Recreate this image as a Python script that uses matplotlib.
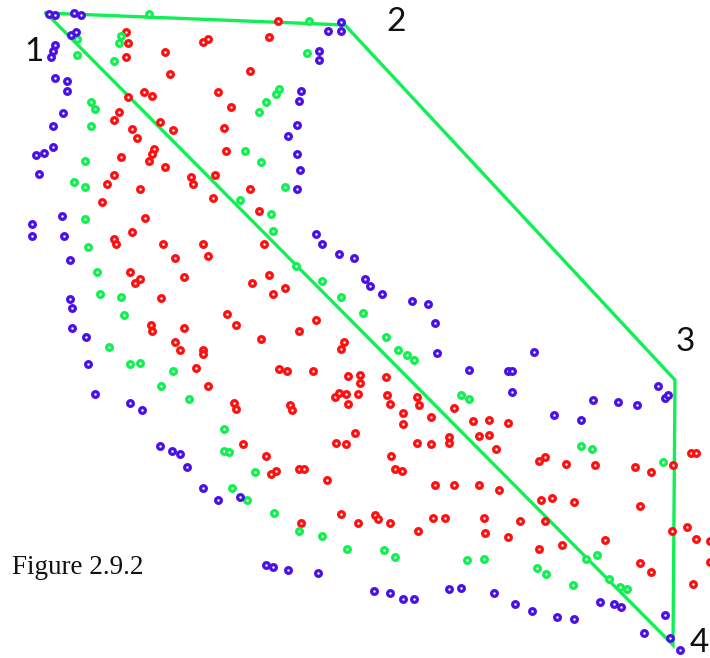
import matplotlib
matplotlib.use("Agg")
import matplotlib.pyplot as plt
import numpy as np

# point positions (pixel coords, y downwards)
blue_pts = [
    (49, 14), (55, 15), (74, 13), (81, 15), (71, 35), (76, 32), (55, 45), (53, 51), (51, 57),
    (55, 78), (67, 81), (67, 91), (63, 113), (53, 126), (53, 147), (44, 153), (36, 155),
    (341, 22), (341, 31), (328, 31), (319, 51), (319, 60), (301, 91), (299, 101), (297, 125),
    (288, 136), (297, 154), (300, 170),
    (39, 174), (32, 224), (32, 236), (62, 216), (64, 236), (70, 260), (70, 299), (72, 308), (72, 328),
    (297, 189), (316, 234), (322, 244), (339, 254), (354, 258), (365, 279), (370, 286), (382, 294),
    (412, 301), (428, 304), (435, 323),
    (86, 337), (88, 364), (95, 394), (130, 403), (142, 410), (160, 446), (172, 451), (180, 454),
    (187, 467), (203, 488), (437, 353), (469, 370),
    (534, 352), (508, 371), (512, 371), (512, 392), (593, 400), (618, 402), (637, 405), (554, 415),
    (581, 420), (658, 386), (665, 398), (668, 395),
    (218, 500), (240, 497),
    (266, 565), (273, 567), (288, 570), (318, 573), (374, 591), (390, 593), (403, 599), (414, 599),
    (449, 589), (461, 588),
    (494, 593), (515, 604), (532, 611), (557, 617), (574, 619), (600, 602), (614, 604), (621, 607),
    (665, 615), (644, 633), (670, 638), (680, 650),
]

green_pts = [
    (149, 14), (121, 36), (119, 43), (77, 39), (77, 55), (114, 61), (91, 102), (95, 109), (91, 126),
    (85, 161), (309, 21), (307, 53), (279, 89), (276, 94), (266, 102), (259, 112), (245, 151), (261, 162),
    (74, 182), (85, 187), (85, 219), (88, 247), (97, 272), (100, 294), (121, 297), (124, 315),
    (285, 187), (240, 200), (271, 214), (273, 231), (296, 266), (322, 281), (341, 297), (363, 313),
    (109, 347), (130, 364), (140, 363), (173, 371), (161, 386), (189, 399), (224, 429), (224, 451),
    (229, 452), (232, 488),
    (386, 337), (398, 350), (407, 355), (414, 360), (461, 395), (469, 399), (255, 472),
    (581, 446), (592, 449), (663, 462),
    (247, 500), (274, 513), (299, 531), (322, 536), (347, 549), (384, 550), (395, 557), (467, 560),
    (484, 559), (537, 568), (546, 574), (573, 585), (586, 559), (597, 555), (609, 579), (620, 587),
    (627, 589),
]

red_pts = [
    (126, 32), (128, 43), (126, 57), (203, 42), (208, 39), (165, 52), (170, 74), (144, 92), (152, 96),
    (128, 97), (119, 112), (114, 120), (160, 122), (173, 130), (132, 129), (137, 138), (218, 92),
    (231, 107), (224, 128), (226, 151), (154, 149), (152, 154), (149, 161), (121, 157), (165, 167),
    (278, 21), (269, 37), (250, 71),
    (114, 175), (107, 184), (140, 189), (102, 202), (191, 177), (193, 184), (215, 175), (213, 198),
    (145, 218), (132, 232), (114, 239), (116, 244), (163, 244), (203, 244), (208, 256), (175, 258),
    (184, 277), (130, 272), (140, 279), (135, 283), (161, 298), (227, 314), (236, 325), (151, 325),
    (184, 328),
    (250, 189), (259, 211), (264, 244), (269, 275), (252, 283), (273, 294), (285, 288), (316, 320),
    (299, 331),
    (152, 331), (175, 342), (180, 350), (203, 350), (203, 354), (196, 368), (208, 386), (234, 403),
    (236, 409),
    (261, 339), (344, 342), (341, 349), (279, 369), (287, 371), (313, 371), (348, 376), (360, 375),
    (360, 383), (386, 377), (335, 397), (339, 393), (346, 394), (348, 404), (358, 394), (387, 395),
    (390, 404), (417, 397), (419, 405), (403, 413), (403, 424), (431, 417), (454, 408), (290, 405),
    (292, 410), (355, 433), (336, 443), (346, 444), (243, 444), (266, 456), (271, 474), (276, 471),
    (299, 469), (304, 469), (327, 480), (391, 456), (395, 469), (402, 471), (417, 443), (431, 444),
    (449, 437), (449, 443), (435, 485), (454, 485),
    (473, 421), (489, 420), (508, 423), (479, 436), (489, 435), (496, 449), (539, 461), (545, 457),
    (566, 464), (595, 465), (635, 467), (651, 472), (673, 465), (691, 453), (696, 453), (479, 485),
    (499, 490),
    (341, 514), (358, 523), (375, 515), (378, 519), (390, 523), (301, 523), (418, 531), (433, 518),
    (445, 518),
    (541, 500), (552, 498), (574, 502), (484, 518), (520, 521), (545, 521), (485, 533), (508, 537),
    (539, 549), (562, 545), (605, 540), (640, 506), (672, 531), (687, 527), (696, 539), (710, 541),
    (640, 563), (651, 572), (693, 584), (710, 562),
]

# hull through the corner points 1-2-3-4
hull_x = [46, 345, 675, 673, 46]
hull_y = [13, 25, 380, 645, 13]
corner_labels = ["1", "2", "3", "4"]
label_x = [34, 396, 685, 699]
label_y = [52, 22, 342, 643]

fig = plt.figure(figsize=(7.10, 6.58), dpi=100)
ax = fig.add_axes([0, 0, 1, 1])
ax.set_xlim(0, 710)
ax.set_ylim(658, 0)
ax.axis('off')

ax.plot(hull_x, hull_y, color='#10f055', lw=2.4, zorder=1, solid_joinstyle='miter')

for pts, col in [(red_pts, '#ff1010'), (green_pts, '#10f050'), (blue_pts, '#4a10e8')]:
    p = np.array(pts)
    ax.scatter(p[:, 0], p[:, 1], s=17, facecolors='white', edgecolors=col,
               linewidths=2.3, zorder=3)

for t, x, y in zip(corner_labels, label_x, label_y):
    ax.text(x, y, t, fontsize=24, family='Lato', ha='center', va='center', color='#111111')

ax.text(12, 567, "Figure 2.9.2", fontsize=19.5, family='Liberation Serif',
        ha='left', va='center', color='#111111')

fig.savefig('out.png', dpi=100)
